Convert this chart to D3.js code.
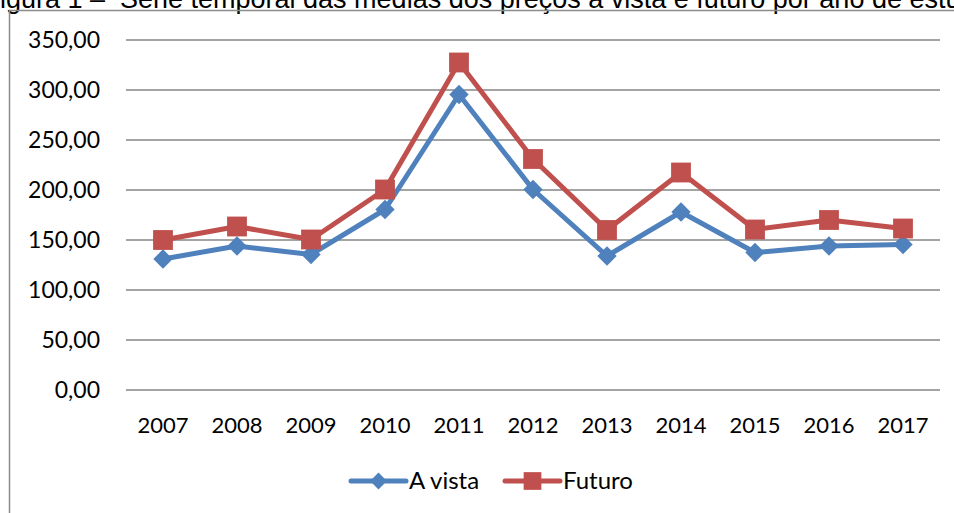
<!DOCTYPE html>
<html>
<head>
<meta charset="utf-8">
<script src="https://cdn.jsdelivr.net/npm/d3@7"></script>
<style>
  body { margin: 0; background: #fff; }
  svg { display: block; }
  .title { font-family: "Liberation Sans", Arial, sans-serif; font-size: 27px; fill: #000; }
  .y-axis text { font-family: Lato, sans-serif; font-size: 23px; fill: #000; }
  .x-axis text { font-family: Lato, sans-serif; font-size: 22px; fill: #000; }
  .legend text { font-family: Lato, sans-serif; font-size: 24px; fill: #000; }
</style>
</head>
<body>
<svg id="chart"></svg>
<script>
// Data
const years = ['2007', '2008', '2009', '2010', '2011', '2012', '2013', '2014', '2015', '2016', '2017'];
const aVista = [130.5, 143.5, 135, 180, 295, 200, 133.5, 177.5, 137, 143.5, 145];
const futuro = [149.5, 163, 150, 200, 327, 230.5, 159.5, 217, 160, 169.5, 161];
const yTicks = [0, 50, 100, 150, 200, 250, 300, 350];
const seriesNames = ['A vista', 'Futuro'];

const config = {
  width: 954,
  height: 513,
  margin: {top: 39.5, right: 14, bottom: 123.5, left: 126},
  colors: ['#4F81BD', '#C0504D']
};

const svg = d3.select('#chart')
  .attr('width', config.width)
  .attr('height', config.height);

// Caption above the chart; its top is cut off by the page edge as in the reference
svg.append('text')
  .attr('class', 'title')
  .attr('x', -16.5)
  .attr('y', 8)
  .text('Figura 1 –');
svg.append('text')
  .attr('class', 'title')
  .attr('x', 120)
  .attr('y', 8)
  .text('Série temporal das médias dos preços à vista e futuro por ano de estudo');

// Chart area border
svg.append('rect')
  .attr('x', 9.5)
  .attr('y', 10.5)
  .attr('width', 960)
  .attr('height', 520)
  .attr('fill', 'none')
  .attr('stroke', '#8c8c8c')
  .attr('stroke-width', 1.5);

const width = config.width - config.margin.left - config.margin.right;
const height = config.height - config.margin.top - config.margin.bottom;

const chart = svg.append('g')
  .attr('transform', `translate(${config.margin.left},${config.margin.top})`);

const xScale = d3.scaleBand()
  .domain(years)
  .range([0, width]);

const yScale = d3.scaleLinear()
  .domain([0, 350])
  .range([height, 0]);

const fmt = d => d3.format('.2f')(d).replace('.', ',');

// Gridlines + y labels
const yAxisG = chart.append('g')
  .attr('class', 'axis y-axis')
  .call(d3.axisLeft(yScale).tickValues(yTicks).tickSize(-width).tickPadding(26).tickFormat(fmt));
yAxisG.select('.domain').remove();
yAxisG.selectAll('line').attr('stroke', '#868686').attr('stroke-width', 1.5);
yAxisG.selectAll('text').attr('dy', '0.35em');

// x labels
const xAxisG = chart.append('g')
  .attr('class', 'axis x-axis')
  .attr('transform', `translate(0,${height})`)
  .call(d3.axisBottom(xScale).tickSize(0));
xAxisG.select('.domain').remove();
xAxisG.selectAll('text')
  .attr('y', 43.5)
  .attr('dy', 0);

const series = [aVista, futuro];
const line = d3.line()
  .x((d, i) => xScale(years[i]) + xScale.bandwidth() / 2)
  .y(d => yScale(d));

const diamond = d3.symbol().type(d3.symbolDiamond2).size(240);
const square = d3.symbol().type(d3.symbolSquare2).size(500);
const shapes = [diamond, square];

series.forEach((vals, s) => {
  chart.append('path')
    .datum(vals)
    .attr('fill', 'none')
    .attr('stroke', config.colors[s])
    .attr('stroke-width', 5)
    .attr('stroke-linejoin', 'round')
    .attr('d', line);

  chart.selectAll(`.marker-${s}`)
    .data(vals)
    .join('path')
    .attr('class', `marker-${s}`)
    .attr('transform', (d, i) => `translate(${xScale(years[i]) + xScale.bandwidth() / 2},${yScale(d)})`)
    .attr('d', shapes[s])
    .attr('fill', config.colors[s]);
});

// Legend
const legendX = [351, 505];
const legend = svg.append('g').attr('class', 'legend');
seriesNames.forEach((name, s) => {
  const g = legend.append('g').attr('transform', `translate(${legendX[s]},481)`);
  g.append('line')
    .attr('x1', 0).attr('x2', 55)
    .attr('stroke', config.colors[s])
    .attr('stroke-width', 5)
    .attr('stroke-linecap', 'round');
  g.append('path')
    .attr('transform', 'translate(27.5,0)')
    .attr('d', s === 0 ? d3.symbol().type(d3.symbolDiamond2).size(180)() : d3.symbol().type(d3.symbolSquare2).size(400)())
    .attr('fill', config.colors[s]);
  g.append('text')
    .attr('x', 58)
    .attr('dy', '0.35em')
    .text(name);
});
</script>
</body>
</html>
